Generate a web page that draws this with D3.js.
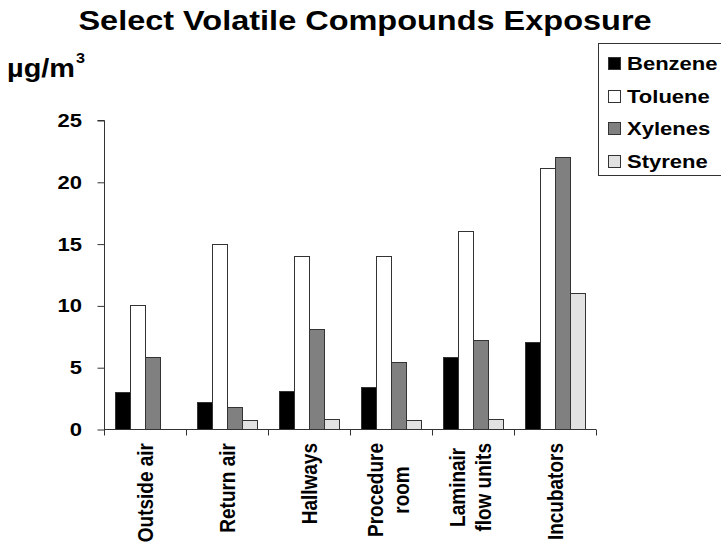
<!DOCTYPE html>
<html>
<head>
<meta charset="utf-8">
<script src="https://cdn.jsdelivr.net/npm/d3@7"></script>
<style>
  html, body { margin: 0; padding: 0; background: #fff; }
  text { font-family: "Liberation Sans", Arial, sans-serif; font-weight: bold; fill: #000; }
</style>
</head>
<body>
<svg id="chart" width="721" height="546"></svg>
<script>
// ---- data ----
const categories = ["Outside air", "Return air", "Hallways", "Procedure\nroom", "Laminair\nflow units", "Incubators"];
const seriesNames = ["Benzene", "Toluene", "Xylenes", "Styrene"];
const benzene = [3.0, 2.2, 3.1, 3.4, 5.8, 7.0];
const toluene = [10, 15, 14, 14, 16, 21.1];
const xylenes = [5.8, 1.8, 8.1, 5.4, 7.2, 22];
const styrene = [0, 0.7, 0.8, 0.7, 0.8, 11];
const seriesColors = ["#000000", "#ffffff", "#808080", "#e2e2e2"];
const yTicks = [0, 5, 10, 15, 20, 25];
const titleText = "Select Volatile Compounds Exposure";
const unitText = "µg/m";
const unitSup = "3";

const seriesValues = [benzene, toluene, xylenes, styrene];
const SX = 1.16; // horizontal stretch of lettering in the original

const svg = d3.select("#chart");

const x0 = d3.scaleBand().domain(categories).range([104, 596]).paddingInner(0).paddingOuter(0);
const x1 = d3.scaleBand().domain(seriesNames).range([11, 71]).padding(0);
const y = d3.scaleLinear().domain([0, 25]).range([429, 120]);

// title
svg.append("text")
  .attr("transform", `translate(365,30) scale(${SX},1)`)
  .attr("text-anchor", "middle")
  .style("font-size", "28px")
  .text(titleText);

// unit label
svg.append("text")
  .attr("x", 7).attr("y", 77)
  .attr("textLength", 68).attr("lengthAdjust", "spacingAndGlyphs")
  .style("font-size", "26px")
  .text(unitText);
svg.append("text")
  .attr("transform", `translate(76,63) scale(${SX},1)`)
  .style("font-size", "14px")
  .text(unitSup);

// bars
const groups = svg.append("g").selectAll("g")
  .data(categories)
  .join("g")
  .attr("transform", d => `translate(${x0(d)},0)`);

groups.selectAll("rect")
  .data((c, i) => seriesNames.map((s, k) => ({ s, k, v: seriesValues[k][i] })).filter(d => d.v > 0))
  .join("rect")
  .attr("x", d => Math.round(x1(d.s)) + 0.5)
  .attr("y", d => Math.round(y(d.v)) + 0.5)
  .attr("width", x1.bandwidth())
  .attr("height", d => Math.round(y(0)) - Math.round(y(d.v)))
  .attr("fill", d => seriesColors[d.k])
  .attr("stroke", "#333")
  .attr("stroke-width", 1);

// y axis
const yAxis = svg.append("g")
  .attr("transform", "translate(104.5,0.5)")
  .call(d3.axisLeft(y).tickValues(yTicks).tickSize(7).tickFormat(""));
yAxis.select(".domain").attr("stroke", "#333").attr("d", `M-7,${y(25)}H0V${y(0)}`);
yAxis.selectAll(".tick line").attr("stroke", "#333");

svg.append("g").selectAll("text")
  .data(yTicks)
  .join("text")
  .attr("transform", d => `translate(82,${y(d) + 7}) scale(${SX},1)`)
  .attr("text-anchor", "end")
  .style("font-size", "19px")
  .text(d => d);

// x axis
const xAxis = svg.append("g")
  .attr("transform", `translate(0,${Math.round(y(0)) + 0.5})`);
xAxis.append("path")
  .attr("d", `M${x0.range()[0]},0H${x0.range()[1]}`)
  .attr("stroke", "#333").attr("fill", "none");
const bounds = categories.map(c => x0(c)).concat([x0.range()[1]]);
xAxis.selectAll("line.xt")
  .data(bounds)
  .join("line")
  .attr("class", "xt")
  .attr("x1", d => Math.round(d) + 0.5).attr("x2", d => Math.round(d) + 0.5)
  .attr("y1", 0).attr("y2", 6)
  .attr("stroke", "#333");

// x labels (rotated, multi-line, lines centred)
const labelTop = 443;
categories.forEach(c => {
  const lines = c.split("\n");
  const cx = x0(c) + x0.bandwidth() / 2;
  const firstBase = lines.length === 1 ? 8 : -8;
  const g = svg.append("g");
  const t = g.append("text")
    .attr("text-anchor", "middle")
    .style("font-size", "19px");
  lines.forEach((ln, i) => {
    t.append("tspan")
      .attr("x", 0)
      .attr("y", (firstBase + i * 26) / SX)
      .text(ln);
  });
  let maxLen = 0;
  t.selectAll("tspan").each(function () { maxLen = Math.max(maxLen, this.getComputedTextLength()); });
  g.attr("transform", `translate(${cx},${labelTop + maxLen / 2}) scale(${SX},1) rotate(-90)`);
});

// legend
const legend = svg.append("g");
legend.append("rect")
  .attr("x", 598.5).attr("y", 43.5)
  .attr("width", 125).attr("height", 132)
  .attr("fill", "#fff").attr("stroke", "#333");
const legBase = [70, 103, 135, 168];
seriesNames.forEach((s, k) => {
  legend.append("rect")
    .attr("x", 608.5).attr("y", legBase[k] - 12.5)
    .attr("width", 12).attr("height", 12)
    .attr("fill", seriesColors[k]).attr("stroke", "#333");
  legend.append("text")
    .attr("transform", `translate(627,${legBase[k]}) scale(${SX},1)`)
    .style("font-size", "19px")
    .text(s);
});
</script>
</body>
</html>
